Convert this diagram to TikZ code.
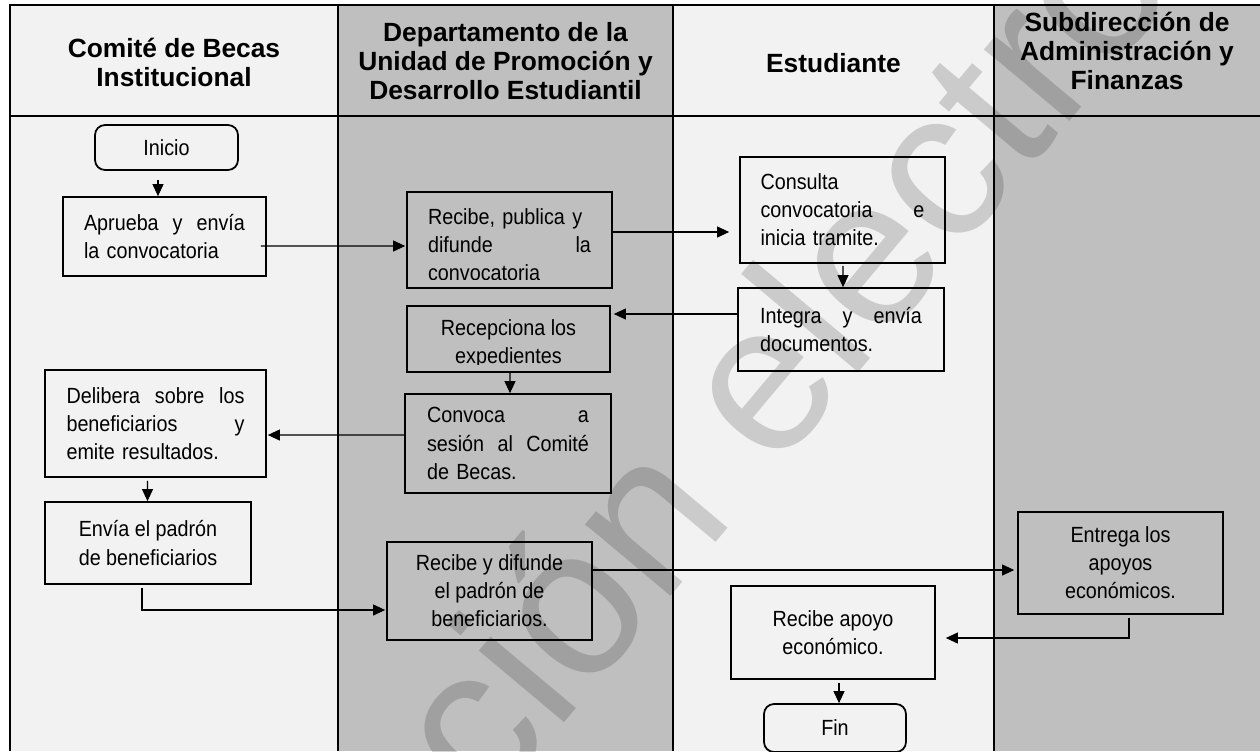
\documentclass[tikz,border=0pt]{standalone}
\usepackage{fontspec}
\setmainfont{Liberation Sans}
\newfontfamily\cuerpo[FakeStretch=0.9]{Liberation Sans}
\usepackage{tikz}
\usetikzlibrary{positioning, calc, arrows.meta}

\definecolor{claro}{gray}{0.95}
\definecolor{oscuro}{gray}{0.75}

\tikzset{
  caja/.style={draw, line width=1pt, inner sep=0pt, font=\cuerpo\fontsize{12.5}{16}\selectfont},
  redondo/.style={caja, rounded corners=0.2cm},
  flecha/.style={-{Triangle[length=0.24cm, width=0.22cm]}, line width=0.6pt},
  titulo/.style={align=center, font=\bfseries\fontsize{15}{16.5}\selectfont},
  marca/.style={anchor=base west, rotate=50, font=\fontsize{120}{120}\selectfont, text=black, text opacity=0.16}
}

\begin{document}
\begin{tikzpicture}[x=0.02cm, y=-0.02cm]
            \useasboundingbox (0,0) rectangle (1260,751);

            %レーンを塗る
            \fill[claro] (10,5) rectangle (338,751);
            \fill[oscuro] (338,5) rectangle (673,751);
            \fill[claro] (673,5) rectangle (994,751);
            \fill[oscuro] (994,5) rectangle (1260,751);

            %線を書く
            \draw[line width=1.1pt] (1260,5) -- (10,5) -- (10,751);
            \draw[line width=1.1pt] (10,116) -- (1260,116);
            \draw[line width=1.1pt] (338,5) -- (338,751);
            \draw[line width=1.1pt] (673,5) -- (673,751);
            \draw[line width=1.1pt] (994,5) -- (994,751);

            %見出しを書く
            \node[titulo] (comite) at (174,62) {Comité de Becas\\Institucional};
            \node[titulo] (depto) at (505.5,61) {Departamento de la\\Unidad de Promoción y\\Desarrollo Estudiantil};
            \node[titulo] (estudiante) at (833.5,63) {Estudiante};
            \node[titulo] (subdir) at (1127,51) {Subdirección de\\Administración y\\Finanzas};

            %箱を書く
            \node[redondo, fill=claro, minimum width=2.86cm, minimum height=0.9cm] (inicio) at (166.5,147.5) {Inicio};
            \node[caja, fill=claro, minimum width=4.06cm, minimum height=1.58cm, text width=3.22cm, align=left] (aprueba) at (164.5,236.5) {Aprueba\hfill y\hfill envía\\la convocatoria};

            \node[caja, fill=oscuro, minimum width=4.1cm, minimum height=1.92cm] (recibe) at (509.5,240) {};
            \begin{scope}
              \clip (409,194) rectangle (610,279);
              \node[caja, draw=none, text width=3.26cm, align=left] (trecibe) at (509.5,245) {Recibe, publica y\\difunde\hfill la\\convocatoria};
            \end{scope}

            \node[caja, fill=claro, minimum width=4.1cm, minimum height=2.12cm, text width=3.28cm, align=left] (consulta) at (842.5,210) {Consulta\\convocatoria\hfill e\\inicia tramite.};
            \node[caja, fill=claro, minimum width=4.12cm, minimum height=1.66cm, text width=3.24cm, align=left] (integra) at (841,329.5) {Integra\hfill y\hfill envía\\documentos.};

            \node[caja, fill=oscuro, minimum width=4.06cm, minimum height=1.32cm] (recepciona) at (508.5,339) {};
            \begin{scope}
              \clip (409,308) rectangle (608,364);
              \node[caja, draw=none, align=center] (trecepciona) at (508.5,344) {Recepciona los\\expedientes};
            \end{scope}

            \node[caja, fill=oscuro, minimum width=4.12cm, minimum height=1.98cm, text width=3.24cm, align=left] (convoca) at (508,443.5) {Convoca\hfill a\\sesión\hfill al\hfill Comité\\de Becas.};
            \node[caja, fill=claro, minimum width=4.42cm, minimum height=2.14cm, text width=3.56cm, align=left] (delibera) at (155.5,423.5) {Delibera\hfill sobre\hfill los\\beneficiarios\hfill y\\emite resultados.};
            \node[caja, fill=claro, minimum width=4.12cm, minimum height=1.64cm, align=center] (envia) at (148,543) {Envía el padrón\\de beneficiarios};
            \node[caja, fill=oscuro, minimum width=4.1cm, minimum height=1.96cm, align=center] (difunde) at (489.5,591) {Recibe y difunde\\el padrón de\\beneficiarios.};
            \node[caja, fill=oscuro, minimum width=4.1cm, minimum height=2.04cm, align=center] (entrega) at (1120.5,563) {Entrega los\\apoyos\\económicos.};
            \node[caja, fill=claro, minimum width=4.08cm, minimum height=1.86cm, align=center] (apoyo) at (833,632.5) {Recibe apoyo\\económico.};
            \node[redondo, fill=claro, minimum width=2.84cm, minimum height=0.96cm] (fin) at (835,728) {Fin};

            %矢印を書く
            \draw[flecha] ($(inicio.south)+(-8.5,9)$) -- ($(aprueba.north)+(-6.5,0)$);
            \draw[flecha] ($(aprueba.east)+(-6,9.5)$) -- ($(recibe.west)+(-1,6)$);
            \draw[flecha] ($(recibe.east)+(0,-8)$) -- ($(consulta.west)+(-10,22)$);
            \draw[flecha] ($(consulta.south)+(0.5,2)$) -- ($(integra.north)+(2,0)$);
            \draw[flecha] ($(integra.west)+(0,-15.5)$) -- ($(recepciona.east)+(3,-25)$);
            \draw[flecha] ($(recepciona.south)+(1.5,0)$) -- ($(convoca.north)+(2,0)$);
            \draw[flecha] ($(convoca.west)+(0,-8.5)$) -- ($(delibera.east)+(1,11.5)$);
            \draw[flecha] ($(delibera.south)+(-8,3)$) -- ($(envia.north)+(-0.5,0)$);
            \draw[flecha] ($(envia.south)+(-6,3)$) |- ($(difunde.west)+(-1,19)$);
            \draw[flecha] ($(difunde.east)+(0,-21)$) -- ($(entrega.west)+(-3,7)$);
            \draw[flecha] ($(entrega.south)+(8.5,3)$) |- ($(apoyo.east)+(10,5.5)$);
            \draw[flecha] ($(apoyo.south)+(6,3)$) -- ($(fin.north)+(4,0)$);

            %透かしを書く
            \node[marca] (marca) at (484,819) {ción electrónica};
        \end{tikzpicture}
\end{document}
